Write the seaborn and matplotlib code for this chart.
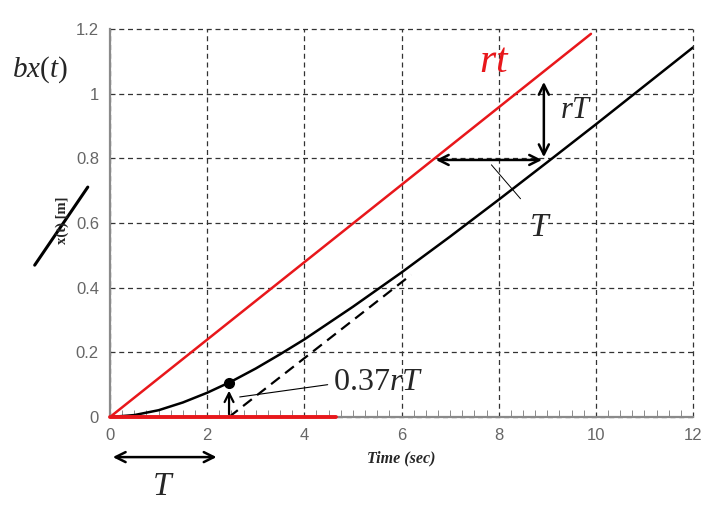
import numpy as np
import matplotlib
matplotlib.use("Agg")
import matplotlib.pyplot as plt
import seaborn as sns

# response of the lag to a ramp input
t_resp = [0, 0.5, 1, 1.5, 2, 2.5, 3, 3.5, 4, 5, 6, 7, 8, 9, 10, 11, 12]
x_resp = [0, 0.006, 0.021, 0.045, 0.075, 0.110, 0.150, 0.194, 0.240,
          0.341, 0.447, 0.558, 0.672, 0.788, 0.905, 1.024, 1.143]

# ramp input rt
t_ramp = [0, 9.9]
x_ramp = [0, 1.185]

# red segment on the time axis
t_base = [0, 4.65]
x_base = [0, 0]

# dashed asymptote
t_asym = [2.45, 6.2]
x_asym = [0, 0.44]

dot_t, dot_x = 2.45, 0.105

xticks = [0, 2, 4, 6, 8, 10, 12]
yticks = [0, 0.2, 0.4, 0.6, 0.8, 1.0, 1.2]
ytick_labels = ["0", "0.2", "0.4", "0.6", "0.8", "1", "1.2"]

sns.set_style("white")
plt.rcParams["mathtext.fontset"] = "custom"
plt.rcParams["mathtext.rm"] = "Liberation Serif"
plt.rcParams["mathtext.it"] = "Liberation Serif:italic"
plt.rcParams["font.family"] = ["Liberation Sans", "DejaVu Sans"]

fig = plt.figure(figsize=(7.08, 5.07), dpi=100)
ax = fig.add_axes([0.1554, 0.1775, 0.8234, 0.7653])

sns.lineplot(x=t_ramp, y=x_ramp, ax=ax, color="#e8171b", lw=1.8,
             estimator=None, sort=False)
sns.lineplot(x=t_resp, y=x_resp, ax=ax, color="black", lw=1.8,
             estimator=None, sort=False)
sns.lineplot(x=t_asym, y=x_asym, ax=ax, color="black", lw=1.6,
             estimator=None, sort=False, linestyle=(0, (5, 3)))
ax.plot(dot_t, dot_x, "o", color="black", ms=7)

ax.set_xlim(0, 12)
ax.set_ylim(0, 1.2)
ax.set_xticks(xticks)
ax.set_xticks(np.arange(0, 12.01, 0.25), minor=True)
ax.set_yticks(yticks)
ax.set_yticklabels(ytick_labels)
ax.grid(True, which="major", color="#333333", lw=0.9, linestyle=(0, (4, 3)))
for gl in ax.get_xgridlines() + ax.get_ygridlines():
    gl.set_clip_on(False)
ax.set_axisbelow(True)
for s in ["top", "right"]:
    ax.spines[s].set_visible(False)
for s in ["left", "bottom"]:
    ax.spines[s].set_color("#8a8a8a")
    ax.spines[s].set_linewidth(1.6)
ax.tick_params(axis="x", which="major", direction="in", length=8,
               color="#777777", labelcolor="#666666", labelsize=12, pad=8)
ax.tick_params(axis="x", which="minor", direction="in", length=5,
               color="#777777", bottom=True)
ax.tick_params(axis="y", length=0, labelcolor="#666666", labelsize=12, pad=8)

# red segment drawn over the bottom spine
ax.plot(t_base, x_base, color="#e8171b", lw=2.8, clip_on=False, zorder=5)

# annotations
ax.text(7.9, 1.1, "$rt$", color="#e8171b", fontsize=30,
        ha="center", va="center")
ax.annotate("", xy=(8.93, 1.045), xytext=(8.93, 0.795),
            arrowprops=dict(arrowstyle="<->", color="black", lw=1.8,
                            mutation_scale=18))
ax.annotate("", xy=(6.65, 0.795), xytext=(8.95, 0.795),
            arrowprops=dict(arrowstyle="<->", color="black", lw=1.8,
                            mutation_scale=18))
ax.text(9.6, 0.95, "$rT$", fontsize=22, ha="center", va="center")
ax.plot([7.85, 8.45], [0.78, 0.675], color="black", lw=0.7)
ax.text(8.85, 0.585, "$T$", fontsize=24, ha="center", va="center")

ax.annotate("", xy=(dot_t, 0.09), xytext=(dot_t, 0.0),
            arrowprops=dict(arrowstyle="->", color="black", lw=1.6,
                            mutation_scale=16))
ax.plot([2.67, 4.48], [0.062, 0.1], color="black", lw=0.8)
ax.text(4.6, 0.108, "$0.37rT$", fontsize=23, ha="left", va="center")

ax.annotate("", xy=(0, -0.124), xytext=(2.25, -0.124),
            annotation_clip=False,
            arrowprops=dict(arrowstyle="<->", color="black", lw=1.8,
                            mutation_scale=18))
ax.text(1.1, -0.215, "$T$", fontsize=24, ha="center", va="center",
        clip_on=False)

ax.text(6.0, -0.127, "Time (sec)", fontsize=11.5, fontweight="bold",
        fontstyle="italic", family="Liberation Serif",
        ha="center", va="center", clip_on=False)

fig.text(0.056, 0.862, "$bx(t)$", fontsize=21, ha="center", va="center")
fig.text(0.088, 0.565, "x(t) [m]", fontsize=10.5, fontweight="bold",
         family="Liberation Serif", rotation=90, ha="center", va="center")
fig.add_artist(plt.Line2D([0.049, 0.124], [0.477, 0.631], color="black",
                          lw=2.2, transform=fig.transFigure))

fig.savefig("out.png", dpi=100, facecolor="white")
